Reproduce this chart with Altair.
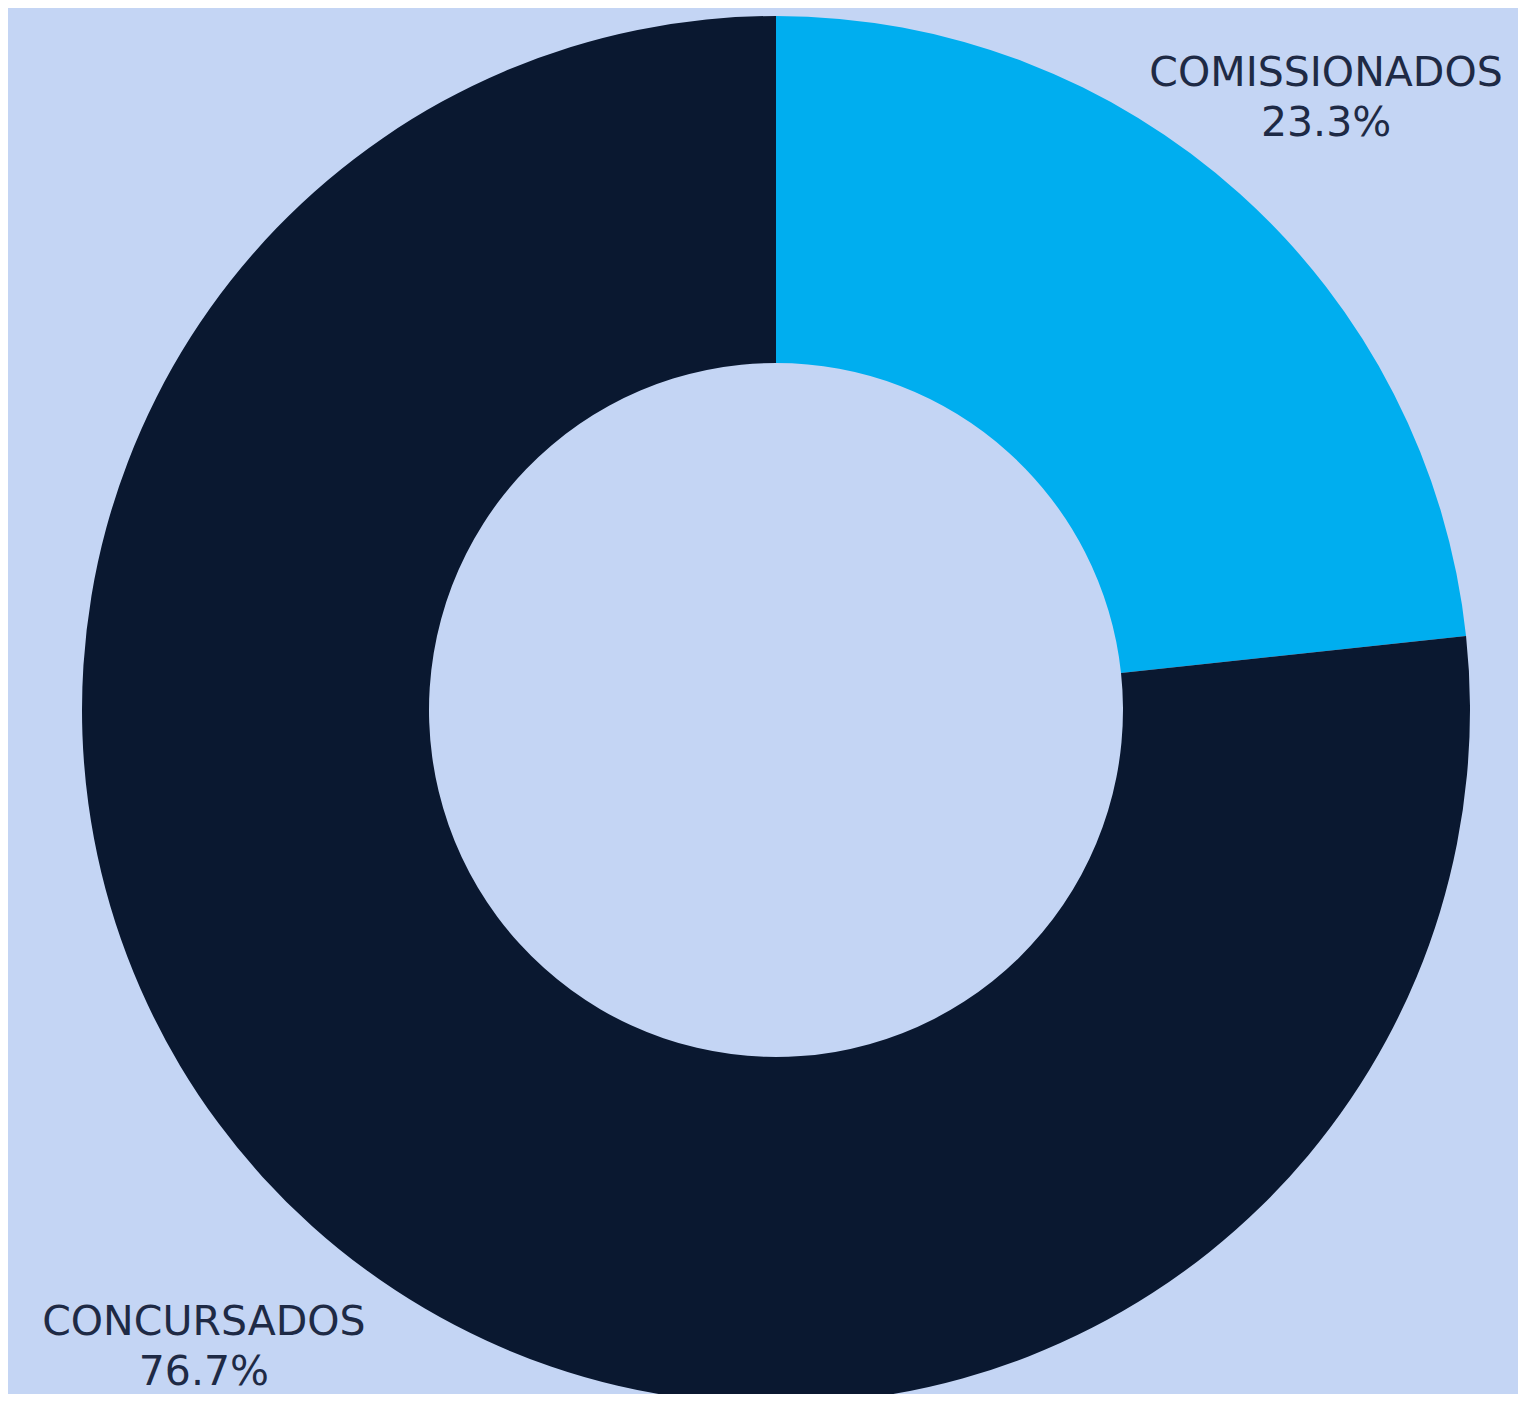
import altair as alt
import pandas as pd

categories = ["COMISSIONADOS", "CONCURSADOS"]
shares = [23.3, 76.7]
pct_labels = ["23.3%", "76.7%"]
order = [0, 1]

df = pd.DataFrame({"cat": categories, "share": shares, "pct": pct_labels, "ord": order})

CX, CY = 768, 702
color = alt.Color("cat:N", scale=alt.Scale(domain=categories, range=["#00AEEF", "#0A1830"]), legend=None)

base = alt.Chart(df)

arcs = base.mark_arc(outerRadius=694, innerRadius=347, stroke=None).encode(
    theta=alt.Theta("share:Q", stack=True),
    color=color,
    order=alt.Order("ord:Q"),
    x=alt.value(CX),
    y=alt.value(CY),
)

label_r = "datum.cat == 'COMISSIONADOS' ? 823 : 856"

lab = base.transform_window(
    cum="sum(share)", sort=[alt.SortField("ord")], frame=[None, 0]
).transform_calculate(
    mid="datum.cum - datum.share / 2", r=label_r
)

theta_mid = alt.Theta("mid:Q", stack=False, scale=alt.Scale(domain=[0, 100], range=[0, 6.283185307]))

font = "DejaVu Sans"
fs = 41
tcol = "#1E2A45"

name_text = lab.mark_text(
    font=font, fontSize=fs, color=tcol, align="center", baseline="middle", dy=-24
).encode(
    theta=theta_mid,
    radius=alt.Radius("r:Q", scale=None),
    text="cat:N",
    x=alt.value(CX),
    y=alt.value(CY),
)

pct_text = lab.mark_text(
    font=font, fontSize=fs, color=tcol, align="center", baseline="middle", dy=26
).encode(
    theta=theta_mid,
    radius=alt.Radius("r:Q", scale=None),
    text="pct:N",
    x=alt.value(CX),
    y=alt.value(CY),
)

chart = alt.layer(arcs, name_text, pct_text).properties(
    width=1510,
    height=1386,
    autosize=alt.AutoSizeParams(type="none"),
    padding=0,
    background="#C4D5F4",
).configure_view(stroke=None)

chart.save("out.html", embed_options={"renderer": "svg", "actions": False})
